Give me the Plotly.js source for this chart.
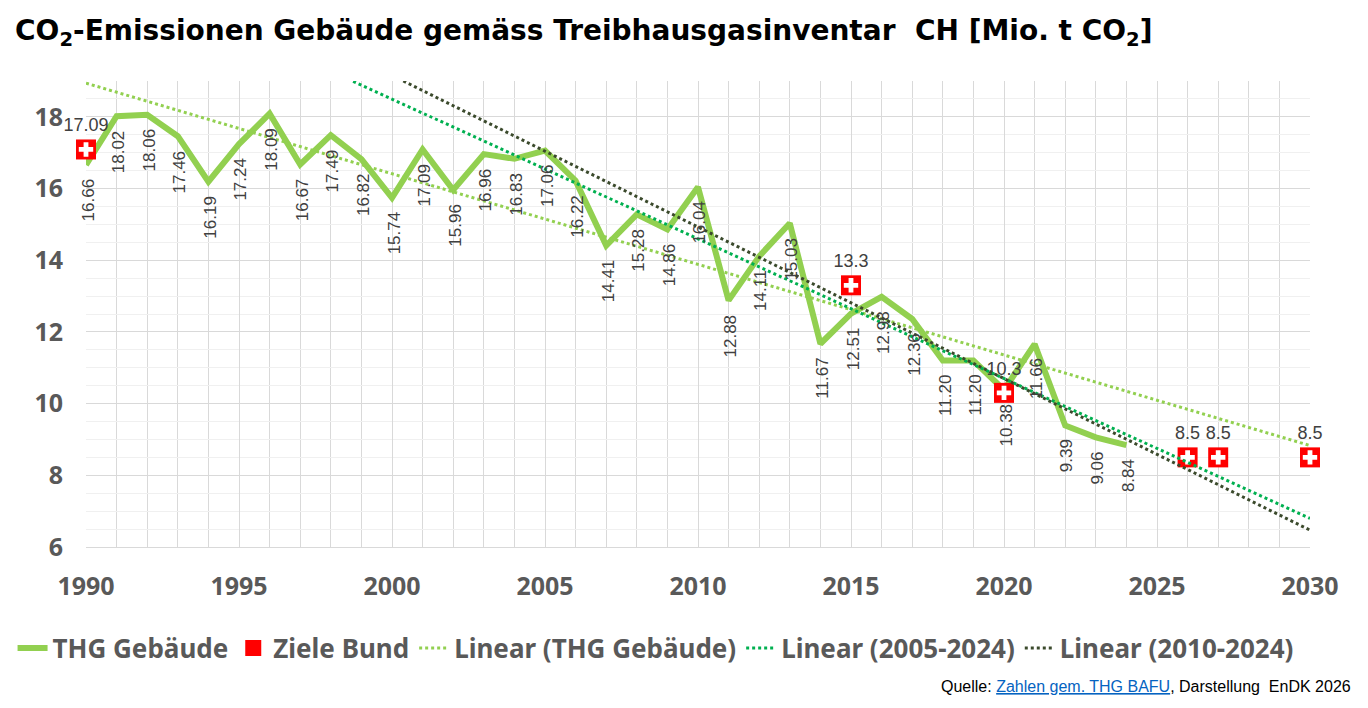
<!DOCTYPE html>
<html>
<head>
<meta charset="utf-8">
<script src="https://cdn.plot.ly/plotly-3.0.1.min.js"></script>
<style>
  body { margin: 0; background: #fff; }
  #chart { width: 1368px; height: 708px; }
</style>
</head>
<body>
<div id="chart"></div>
<script>
// Werte THG Gebäude (Mio. t CO2)
var years = [1990, 1991, 1992, 1993, 1994, 1995, 1996, 1997, 1998, 1999,
             2000, 2001, 2002, 2003, 2004, 2005, 2006, 2007, 2008, 2009,
             2010, 2011, 2012, 2013, 2014, 2015, 2016, 2017, 2018, 2019,
             2020, 2021, 2022, 2023, 2024];
var thg = [16.66, 18.02, 18.06, 17.46, 16.19, 17.24, 18.09, 16.67, 17.49, 16.82,
           15.74, 17.09, 15.96, 16.96, 16.83, 17.06, 16.22, 14.41, 15.28, 14.86,
           16.04, 12.88, 14.11, 15.03, 11.67, 12.51, 12.98, 12.36, 11.20, 11.20,
           10.38, 11.66, 9.39, 9.06, 8.84];

// Ziele Bund
var zielYears = [1990, 2015, 2020, 2026, 2027, 2030];
var ziele = [17.09, 13.3, 10.3, 8.5, 8.5, 8.5];
var zielLabels = ['17.09', '13.3', '10.3', '8.5', '8.5', '8.5'];

// Trendlinien (Endpunkte)
var trendAllX = [1990, 2030];
var trendAllY = [18.94, 8.83];
var trend05X = [1998.73, 2030];
var trend05Y = [18.99, 6.80];
var trend10X = [2000.37, 2030];
var trend10Y = [19.0, 6.47];

var labelFont = 'Liberation Sans, Arial, sans-serif';
var boldFont = 'Noto Sans, Open Sans, sans-serif';

var traces = [
  {
    x: years, y: thg, name: 'THG Gebäude', type: 'scatter', mode: 'lines',
    line: {color: '#92d050', width: 6}
  },
  {
    x: zielYears, y: ziele, name: 'Ziele Bund', type: 'scatter', mode: 'markers+text',
    text: zielLabels, textposition: 'top center',
    textfont: {family: labelFont, size: 18, color: '#404040'},
    marker: {symbol: 'square', size: 20, color: '#ff0000', line: {width: 0}},
    cliponaxis: false
  },
  {
    // weisses Kreuz auf den roten Quadraten
    x: zielYears, y: ziele, name: 'Kreuz', type: 'scatter', mode: 'markers',
    marker: {symbol: 'cross', size: 12, color: '#ffffff', line: {width: 0}},
    showlegend: false, cliponaxis: false
  },
  {
    x: trendAllX, y: trendAllY, name: 'Linear (THG Gebäude)', type: 'scatter', mode: 'lines',
    line: {color: '#92d050', width: 3, dash: 'dot'}
  },
  {
    x: trend05X, y: trend05Y, name: 'Linear (2005-2024)', type: 'scatter', mode: 'lines',
    line: {color: '#00b050', width: 3, dash: 'dot'}
  },
  {
    x: trend10X, y: trend10Y, name: 'Linear (2010-2024)', type: 'scatter', mode: 'lines',
    line: {color: '#3b4a2c', width: 3, dash: 'dot'}
  }
];

// gedrehte Datenbeschriftungen unter den Punkten
var annotations = [];
for (let i = 0; i < years.length; i++) {
  annotations.push({
    x: years[i], y: thg[i], xref: 'x', yref: 'y',
    text: thg[i].toFixed(2), showarrow: false, textangle: -90,
    xanchor: 'center', yanchor: 'top', yshift: -12, xshift: 2,
    font: {family: labelFont, size: 17, color: '#404040'}
  });
}

annotations.push({
  xref: 'paper', yref: 'paper', x: 1.035, y: -0.3, xanchor: 'right', yanchor: 'middle',
  showarrow: false,
  text: 'Quelle: <a href="#" style="color:#0563c1;text-decoration:underline">Zahlen gem. THG BAFU</a>, Darstellung  EnDK 2026',
  font: {family: labelFont, size: 16, color: '#000000'}
});

var layout = {
  width: 1368, height: 708,
  paper_bgcolor: '#ffffff', plot_bgcolor: '#ffffff',
  margin: {l: 86, r: 58, t: 81, b: 161},
  title: {
    text: 'CO<sub>2</sub>-Emissionen Gebäude gemäss Treibhausgasinventar  CH [Mio. t CO<sub>2</sub>]',
    x: 0.011, xanchor: 'left', xref: 'container',
    y: 0.957, yanchor: 'middle', yref: 'container',
    font: {family: 'DejaVu Sans, Noto Sans, sans-serif', size: 28, color: '#000000', weight: 'bold'}
  },
  xaxis: {
    range: [1990, 2030], tickmode: 'linear', tick0: 1990, dtick: 5,
    showgrid: true, gridcolor: '#d9d9d9', gridwidth: 1,
    minor: {dtick: 1, showgrid: true, gridcolor: '#d9d9d9', gridwidth: 1},
    showline: true, linecolor: '#d9d9d9', linewidth: 1,
    zeroline: false, ticks: '', ticklabelstandoff: 17,
    tickfont: {family: boldFont, size: 25, color: '#595959', weight: 'bold'}
  },
  yaxis: {
    range: [6, 19], tickmode: 'linear', tick0: 6, dtick: 2,
    showgrid: true, gridcolor: '#d9d9d9', gridwidth: 1,
    minor: {dtick: 0.5, showgrid: true, gridcolor: '#f0f0f0', gridwidth: 1},
    zeroline: false, ticks: '', ticklabelstandoff: 22,
    tickfont: {family: boldFont, size: 25, color: '#595959', weight: 'bold'}
  },
  showlegend: true,
  legend: {
    orientation: 'h', x: -0.06, xanchor: 'left', y: -0.217, yanchor: 'middle',
    font: {family: boldFont, size: 26, color: '#595959', weight: 'bold'},
    itemwidth: 30, tracegroupgap: 0
  },
  annotations: annotations
};

Plotly.newPlot('chart', traces, layout, {displayModeBar: false, staticPlot: true});
</script>
</body>
</html>
